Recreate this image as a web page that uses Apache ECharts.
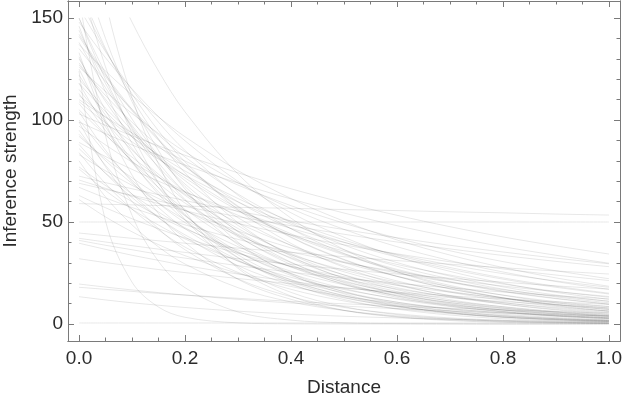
<!DOCTYPE html>
<html>
<head>
<meta charset="utf-8">
<script src="https://cdn.jsdelivr.net/npm/echarts@6/dist/echarts.min.js"></script>
<style>
  html, body { margin: 0; padding: 0; background: #fff; }
  #vis { width: 624px; height: 399px; }
</style>
</head>
<body>
<div id="vis"></div>
<script>
// sample positions along the distance axis
const distance = [0, 0.05, 0.1, 0.15, 0.2, 0.3, 0.4, 0.5, 0.6, 0.7, 0.8, 0.9, 1.0];

// curves that start above the plot top or fall off very fast
const steepCurves = [
  [210, 176, 148, 124, 104, 73.5, 51.9, 36.5, 25.6, 18.1, 12.8, 9.0, 6.3],
  [224, 158, 111, 78.4, 55.3, 27.3, 13.7, 6.7, 3.4, 1.7, 0.8, 0.4, 0.2],
  [124, 50.5, 20.5, 8.3, 3.3, 0.56, 0.09, 0.02, 0, 0, 0, 0, 0],
  [165, 135, 110.6, 90.6, 74.1, 49.7, 33.3, 22.3, 15, 10, 6.8, 4.5, 3],
  [180, 140, 109, 85, 66.2, 40.1, 24.3, 14.8, 9, 5.4, 3.2, 2, 1.2],
  [155, 133.5, 114.9, 98.9, 85.1, 63.1, 46.7, 34.6, 25.6, 18.9, 14.1, 10.4, 7.8],
  [170, 126, 93.3, 69.2, 51.2, 28, 15.5, 8.5, 4.6, 2.6, 1.4, 0.8, 0.4],
  [150, 119.9, 95.7, 76.4, 61, 38.9, 24.8, 15.8, 10, 6.5, 4, 2.6, 1.7],
  [160, 134.2, 112.8, 94.7, 79.5, 56, 39.5, 27.8, 19.5, 13.8, 9.8, 6.9, 4.8],
  [160, 92.3, 53.3, 30.7, 17.8, 5.9, 1.9, 0.6, 0.2, 0.1, 0, 0, 0]
];

// curves starting between ~110 and ~150
const highCurves = [
  [144, 117.9, 96.5, 79, 64.7, 43.3, 29.1, 19.4, 13.1, 8.8, 5.9, 3.9, 2.6],
  [141, 121.4, 104.5, 90, 77.4, 57.4, 42.4, 31.4, 23.3, 17.2, 12.8, 9.4, 7.1],
  [138, 115.8, 97.3, 81.7, 68.6, 48.3, 34.1, 24, 16.8, 11.9, 8.4, 5.9, 4.1],
  [135, 119, 105.2, 92.7, 81.9, 63.7, 49.7, 38.7, 30.1, 23.5, 18.2, 14.2, 11.1],
  [131, 104.7, 83.6, 66.7, 53.3, 33.9, 21.6, 13.8, 8.8, 5.6, 3.5, 2.2, 1.4],
  [128, 110.2, 94.8, 81.7, 70.3, 52.1, 38.5, 28.5, 21.1, 15.6, 11.6, 8.6, 6.4],
  [126, 114, 103.2, 93.4, 84.4, 69.2, 56.6, 46.4, 37.9, 31.1, 25.5, 20.8, 17],
  [122, 102.4, 86, 72.2, 60.6, 42.7, 30.1, 21.2, 14.9, 10.5, 7.4, 5.2, 3.7],
  [120, 105.8, 93.5, 82.4, 72.8, 56.6, 44.2, 34.4, 26.8, 20.9, 16.2, 12.6, 9.8],
  [118, 96.6, 79.1, 64.8, 53, 35.5, 23.8, 15.9, 10.7, 7.2, 4.8, 3.2, 2.1],
  [115, 99, 85.2, 73.4, 63.1, 46.8, 34.6, 25.6, 19, 14, 10.5, 7.7, 5.8],
  [112, 101.4, 91.7, 83, 75, 61.5, 50.3, 41.2, 33.7, 27.7, 22.6, 18.5, 15.1],
  [146, 113.7, 88.6, 68.9, 53.7, 32.6, 19.7, 12, 7.3, 4.4, 2.6, 1.6, 1],
  [133, 98.6, 73, 54.1, 40, 21.9, 12.1, 6.7, 3.6, 2, 1.1, 0.6, 0.3],
  [148, 130.5, 115.3, 101.7, 89.8, 69.9, 54.5, 42.5, 33, 25.8, 20, 15.5, 12.1],
  [137, 124, 112.2, 101.5, 91.8, 75.2, 61.5, 50.4, 41.2, 33.8, 27.7, 22.6, 18.5],
  [125, 99.9, 79.8, 63.6, 50.9, 32.4, 20.6, 13.1, 8.4, 5.4, 3.4, 2.1, 1.4],
  [113, 94.8, 79.7, 66.9, 56.2, 39.6, 27.9, 19.7, 13.8, 9.7, 6.9, 4.9, 3.4],
  [118, 104.1, 91.9, 81.1, 71.6, 55.7, 43.4, 33.9, 26.3, 20.5, 15.9, 12.4, 9.7],
  [130, 109.1, 91.7, 77, 64.6, 45.5, 32.1, 22.6, 15.9, 11.2, 7.9, 5.6, 3.9],
  [142, 122.3, 105.2, 90.6, 78, 57.8, 42.7, 31.7, 23.4, 17.3, 12.9, 9.5, 7.1],
  [150, 122.9, 100.5, 82.4, 67.4, 45.2, 30.3, 20.3, 13.7, 9.2, 6.2, 4, 2.7],
  [127, 112, 98.9, 87.2, 77.1, 59.9, 46.7, 36.4, 28.3, 22.1, 17.1, 13.3, 10.4]
];

// curves starting between ~75 and ~110
const midCurves = [
  [108, 93, 80, 68.9, 59.3, 44, 32.5, 24.1, 17.8, 13.2, 9.8, 7.2, 5.4],
  [105, 92.6, 81.8, 72.1, 63.7, 49.6, 38.6, 30.1, 23.4, 18.3, 14.2, 11, 8.6],
  [103, 97.4, 92.3, 87.3, 82.7, 74.1, 66.3, 59.4, 53.3, 47.7, 42.7, 38.3, 34.3],
  [100, 83.9, 70.5, 59.2, 49.7, 35, 24.7, 17.4, 12.2, 8.6, 6.1, 4.3, 3],
  [97, 87.8, 79.4, 71.9, 65, 53.3, 43.6, 35.7, 29.2, 24, 19.6, 16, 13.1],
  [95, 77.8, 63.7, 52.2, 42.7, 28.6, 19.2, 12.8, 8.6, 5.8, 3.9, 2.6, 1.7],
  [92, 81.1, 71.7, 63.2, 55.8, 43.4, 33.9, 26.4, 20.5, 16, 12.4, 9.7, 7.5],
  [89, 82.1, 75.8, 70, 64.6, 55.1, 46.9, 40, 34.1, 29, 24.7, 21.1, 18],
  [86, 74, 63.7, 54.9, 47.2, 35, 25.9, 19.2, 14.2, 10.5, 7.8, 5.8, 4.3],
  [83, 75.1, 68, 61.5, 55.6, 45.6, 37.3, 30.5, 25, 20.5, 16.8, 13.7, 11.2],
  [80, 62.3, 48.6, 37.8, 29.4, 17.8, 10.8, 6.6, 4, 2.4, 1.4, 0.9, 0.5],
  [77, 67.9, 60, 52.9, 46.7, 36.3, 28.3, 22.1, 17.2, 13.4, 10.4, 8.1, 6.3],
  [110, 101.5, 93.7, 86.6, 79.9, 68.1, 58, 49.4, 42.1, 35.9, 30.6, 26.1, 22.2],
  [99, 93.3, 87.8, 82.7, 77.9, 69.1, 61.3, 54.4, 48.2, 42.8, 37.9, 33.7, 29.8],
  [104, 85.2, 69.7, 57.1, 46.7, 31.3, 21, 14, 9.5, 6.3, 4.3, 2.8, 1.9],
  [93, 80.1, 68.9, 59.3, 51.1, 37.9, 28, 20.7, 15.3, 11.3, 8.5, 6.2, 4.7],
  [88, 73.8, 62, 52.1, 43.7, 30.8, 21.7, 15.3, 10.7, 7.6, 5.4, 3.8, 2.6],
  [109, 98.6, 89.3, 80.8, 73, 59.8, 48.9, 40.1, 32.8, 26.9, 22, 18, 14.7],
  [99, 77.1, 60.1, 46.7, 36.4, 22.1, 13.4, 8.1, 5, 3, 1.8, 1.1, 0.7],
  [84, 68.8, 56.3, 46.1, 37.7, 25.3, 17, 11.3, 7.6, 5.1, 3.4, 2.3, 1.5],
  [76, 65.4, 56.3, 48.5, 41.7, 30.9, 22.9, 16.9, 12.5, 9.3, 6.9, 5.1, 3.8]
];

// slow and nearly flat curves starting below ~75
const lowCurves = [
  [72.5, 69.3, 66.3, 63.4, 60.5, 55.3, 50.6, 46.3, 42.3, 38.6, 35.3, 32.3, 29.5],
  [70.6, 66.5, 62.6, 59, 55.6, 49.3, 43.7, 38.8, 34.4, 30.5, 27, 24, 21.3],
  [69, 66, 63.1, 60.3, 57.6, 52.6, 48.2, 44, 40.2, 36.8, 33.6, 30.7, 28.1],
  [67, 61.8, 57.1, 52.7, 48.6, 41.5, 35.3, 30.1, 25.7, 21.8, 18.6, 15.9, 13.5],
  [59, 58.7, 58.4, 58.1, 57.8, 57.2, 56.7, 56.1, 55.6, 55, 54.5, 53.9, 53.4],
  [50, 50, 50, 50, 50, 50, 50, 50, 50, 50, 50, 50, 50],
  [63, 57, 51.6, 46.7, 42.2, 34.6, 28.3, 23.2, 19, 15.6, 12.7, 10.4, 8.5],
  [61, 52.5, 45.2, 38.9, 33.5, 24.8, 18.4, 13.6, 10.1, 7.4, 5.6, 4.1, 3.1],
  [44.6, 43.3, 42, 40.8, 39.6, 37.2, 35.1, 33, 31.1, 29.3, 27.6, 26, 24.5],
  [42, 40.2, 38.4, 36.7, 35.1, 32, 29.3, 26.8, 24.5, 22.4, 20.5, 18.7, 17.1],
  [41, 38.6, 36.4, 34.2, 32.3, 28.6, 25.4, 22.5, 20, 17.7, 15.7, 13.9, 12.3],
  [39.6, 36.6, 33.7, 31.2, 28.7, 24.5, 20.9, 17.8, 15.2, 12.9, 11, 9.4, 8],
  [32, 30.1, 28.4, 26.7, 25.2, 22.3, 19.8, 17.6, 15.6, 13.8, 12.3, 10.9, 9.6],
  [19.6, 18.1, 16.7, 15.4, 14.2, 12.1, 10.3, 8.8, 7.5, 6.4, 5.4, 4.6, 4],
  [18, 17, 16, 15, 14.2, 12.6, 11.1, 9.9, 8.8, 7.8, 6.9, 6.1, 5.4],
  [13.4, 11.8, 10.4, 9.2, 8.1, 6.3, 4.9, 3.8, 3, 2.3, 1.8, 1.4, 1.1],
  [0.5, 0.5, 0.5, 0.5, 0.5, 0.5, 0.5, 0.5, 0.5, 0.5, 0.5, 0.5, 0.5]
];

const xMajor = [0, 0.2, 0.4, 0.6, 0.8, 1.0];
const xMinor = [0.05, 0.1, 0.15, 0.25, 0.3, 0.35, 0.45, 0.5, 0.55, 0.65, 0.7, 0.75, 0.85, 0.9, 0.95];
const yMajor = [0, 50, 100, 150];
const yMinor = [10, 20, 30, 40, 60, 70, 80, 90, 110, 120, 130, 140];

const X_MIN = -0.0208, X_MAX = 1.0208;
const Y_MIN = -8.33, Y_MAX = 158.33;
const frameColor = '#7a7a7a';
const font = 'Liberation Sans, Arial, Helvetica, sans-serif';

const chart = echarts.init(document.getElementById('vis'), null, { renderer: 'canvas' });

function frameAxis(kind, position, ticks, len, extra) {
  return Object.assign({
    type: 'value',
    gridIndex: 0,
    position: position,
    min: kind === 'x' ? X_MIN : Y_MIN,
    max: kind === 'x' ? X_MAX : Y_MAX,
    axisLine: { show: true, onZero: false, lineStyle: { color: frameColor, width: 1 } },
    axisTick: { show: true, inside: true, length: len, customValues: ticks,
      lineStyle: { color: frameColor, width: 1 } },
    axisLabel: { show: false },
    splitLine: { show: false }
  }, extra || {});
}

const labelStyle = { color: '#2b2b2b', fontSize: 19, fontFamily: font };

const xAxes = [
  frameAxis('x', 'bottom', xMajor, 6, {
    axisLabel: Object.assign({ show: true, customValues: xMajor, margin: 8,
      formatter: v => v.toFixed(1) }, labelStyle),
    name: 'Distance', nameLocation: 'middle', nameGap: 37,
    nameTextStyle: { color: '#2b2b2b', fontSize: 19, fontFamily: font }
  }),
  frameAxis('x', 'bottom', xMinor, 3.5),
  frameAxis('x', 'top', xMajor, 6),
  frameAxis('x', 'top', xMinor, 3.5),
  { type: 'value', gridIndex: 1, min: X_MIN, max: X_MAX, show: false }
];

const yAxes = [
  frameAxis('y', 'left', yMajor, 6, {
    axisLabel: Object.assign({ show: true, customValues: yMajor, margin: 5 }, labelStyle),
    name: 'Inference strength', nameLocation: 'middle', nameGap: 48,
    nameTextStyle: { color: '#2b2b2b', fontSize: 19, fontFamily: font }
  }),
  frameAxis('y', 'left', yMinor, 3.5),
  frameAxis('y', 'right', yMajor, 6),
  frameAxis('y', 'right', yMinor, 3.5),
  { type: 'value', gridIndex: 1, min: Y_MIN, max: 150, show: false }
];

const allCurves = [].concat(steepCurves, highCurves, midCurves, lowCurves);

const series = allCurves.map(curve => ({
  type: 'line',
  xAxisIndex: 4,
  yAxisIndex: 4,
  data: distance.map((d, i) => [d, curve[i]]),
  showSymbol: false,
  smooth: 0.35,
  clip: true,
  silent: true,
  lineStyle: { color: 'rgba(0,0,0,0.095)', width: 1 },
  emphasis: { disabled: true }
}));

chart.setOption({
  animation: false,
  grid: [
    { left: 68, right: 4, top: 1, bottom: 58, outerBoundsMode: 'none' },
    { left: 68, right: 4, top: 18, bottom: 58, outerBoundsMode: 'none' }
  ],
  xAxis: xAxes,
  yAxis: yAxes,
  series: series
});

window.addEventListener('resize', () => chart.resize());
</script>
</body>
</html>
